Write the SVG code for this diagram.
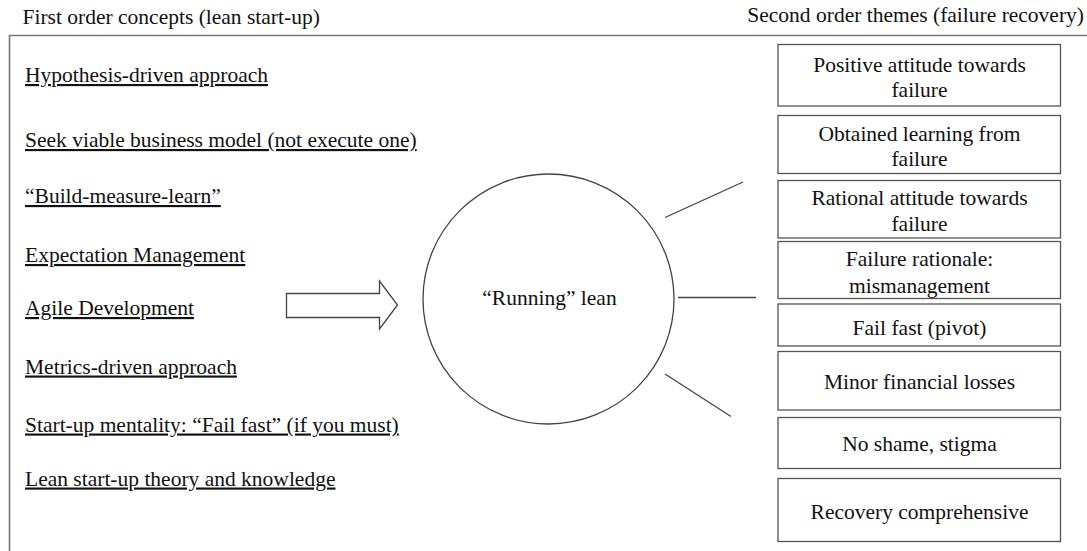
<svg xmlns="http://www.w3.org/2000/svg" width="1087" height="551" viewBox="0 0 1087 551">
<style>
text{font-family:"Liberation Serif","Times New Roman",serif;font-size:21.5px;fill:#111;}
.u{text-decoration:underline;}
.c{text-anchor:middle;}
.box{fill:#fff;stroke:#555;stroke-width:1.3;}
.ln{stroke:#444;stroke-width:1.3;fill:none;}
.frame{stroke:#777;stroke-width:1.6;fill:none;}
</style>
<rect width="1087" height="551" fill="#fff"/>
<g id="frame">
<path class="frame" d="M9.5,551 V35.5 H1087"/>
</g>
<g id="headers">
<text x="22.5" y="23.5">First order concepts (lean start-up)</text>
<text x="1084" y="21.5" style="text-anchor:end">Second order themes (failure recovery)</text>
</g>
<g id="concepts">
<text class="u" x="25" y="82">Hypothesis-driven approach</text>
<text class="u" x="25" y="147">Seek viable business model (not execute one)</text>
<text class="u" x="25" y="203">“Build-measure-learn”</text>
<text class="u" x="25" y="262">Expectation Management</text>
<text class="u" x="25" y="315">Agile Development</text>
<text class="u" x="25" y="373.5">Metrics-driven approach</text>
<text class="u" x="25" y="431.5">Start-up mentality: “Fail fast” (if you must)</text>
<text class="u" x="25" y="485.5">Lean start-up theory and knowledge</text>
</g>
<g id="arrow">
<path d="M286.5,293.5 H379.5 V281 L397.5,305 L379.5,329 V317.5 H286.5 Z" fill="#fff" stroke="#444" stroke-width="1.3" stroke-linejoin="miter"/>
</g>
<g id="running-lean">
<ellipse cx="548.5" cy="299" rx="125.5" ry="125" fill="#fff" stroke="#444" stroke-width="1.3"/>
<text class="c" x="549.5" y="305">“Running” lean</text>
</g>
<g id="connectors">
<line class="ln" x1="665" y1="217.5" x2="743" y2="182"/>
<line class="ln" x1="678" y1="297.5" x2="756" y2="297.5"/>
<line class="ln" x1="665" y1="374" x2="731" y2="416.5"/>
</g>
<g id="theme-1">
<rect class="box" x="778" y="44.5" width="282.5" height="61.5"/>
<text class="c" x="919.5" y="71.5">Positive attitude towards</text>
<text class="c" x="919.5" y="96.5">failure</text>
</g>
<g id="theme-2">
<rect class="box" x="778" y="115.5" width="282.5" height="58"/>
<text class="c" x="919.5" y="140.5">Obtained learning from</text>
<text class="c" x="919.5" y="166">failure</text>
</g>
<g id="theme-3">
<rect class="box" x="778" y="180.5" width="282.5" height="57.5"/>
<text class="c" x="919.5" y="205">Rational attitude towards</text>
<text class="c" x="919.5" y="230.5">failure</text>
</g>
<g id="theme-4">
<rect class="box" x="778" y="241.5" width="282.5" height="57"/>
<text class="c" x="919.5" y="265.5">Failure rationale:</text>
<text class="c" x="919.5" y="292.5">mismanagement</text>
</g>
<g id="theme-5">
<rect class="box" x="778" y="304" width="282.5" height="42"/>
<text class="c" x="919.5" y="335">Fail fast (pivot)</text>
</g>
<g id="theme-6">
<rect class="box" x="778" y="351.5" width="282.5" height="58.5"/>
<text class="c" x="919.5" y="388.5">Minor financial losses</text>
</g>
<g id="theme-7">
<rect class="box" x="778" y="417.5" width="282.5" height="51"/>
<text class="c" x="919.5" y="451">No shame, stigma</text>
</g>
<g id="theme-8">
<rect class="box" x="778" y="478.5" width="282.5" height="63"/>
<text class="c" x="919.5" y="518.5">Recovery comprehensive</text>
</g>
</svg>
